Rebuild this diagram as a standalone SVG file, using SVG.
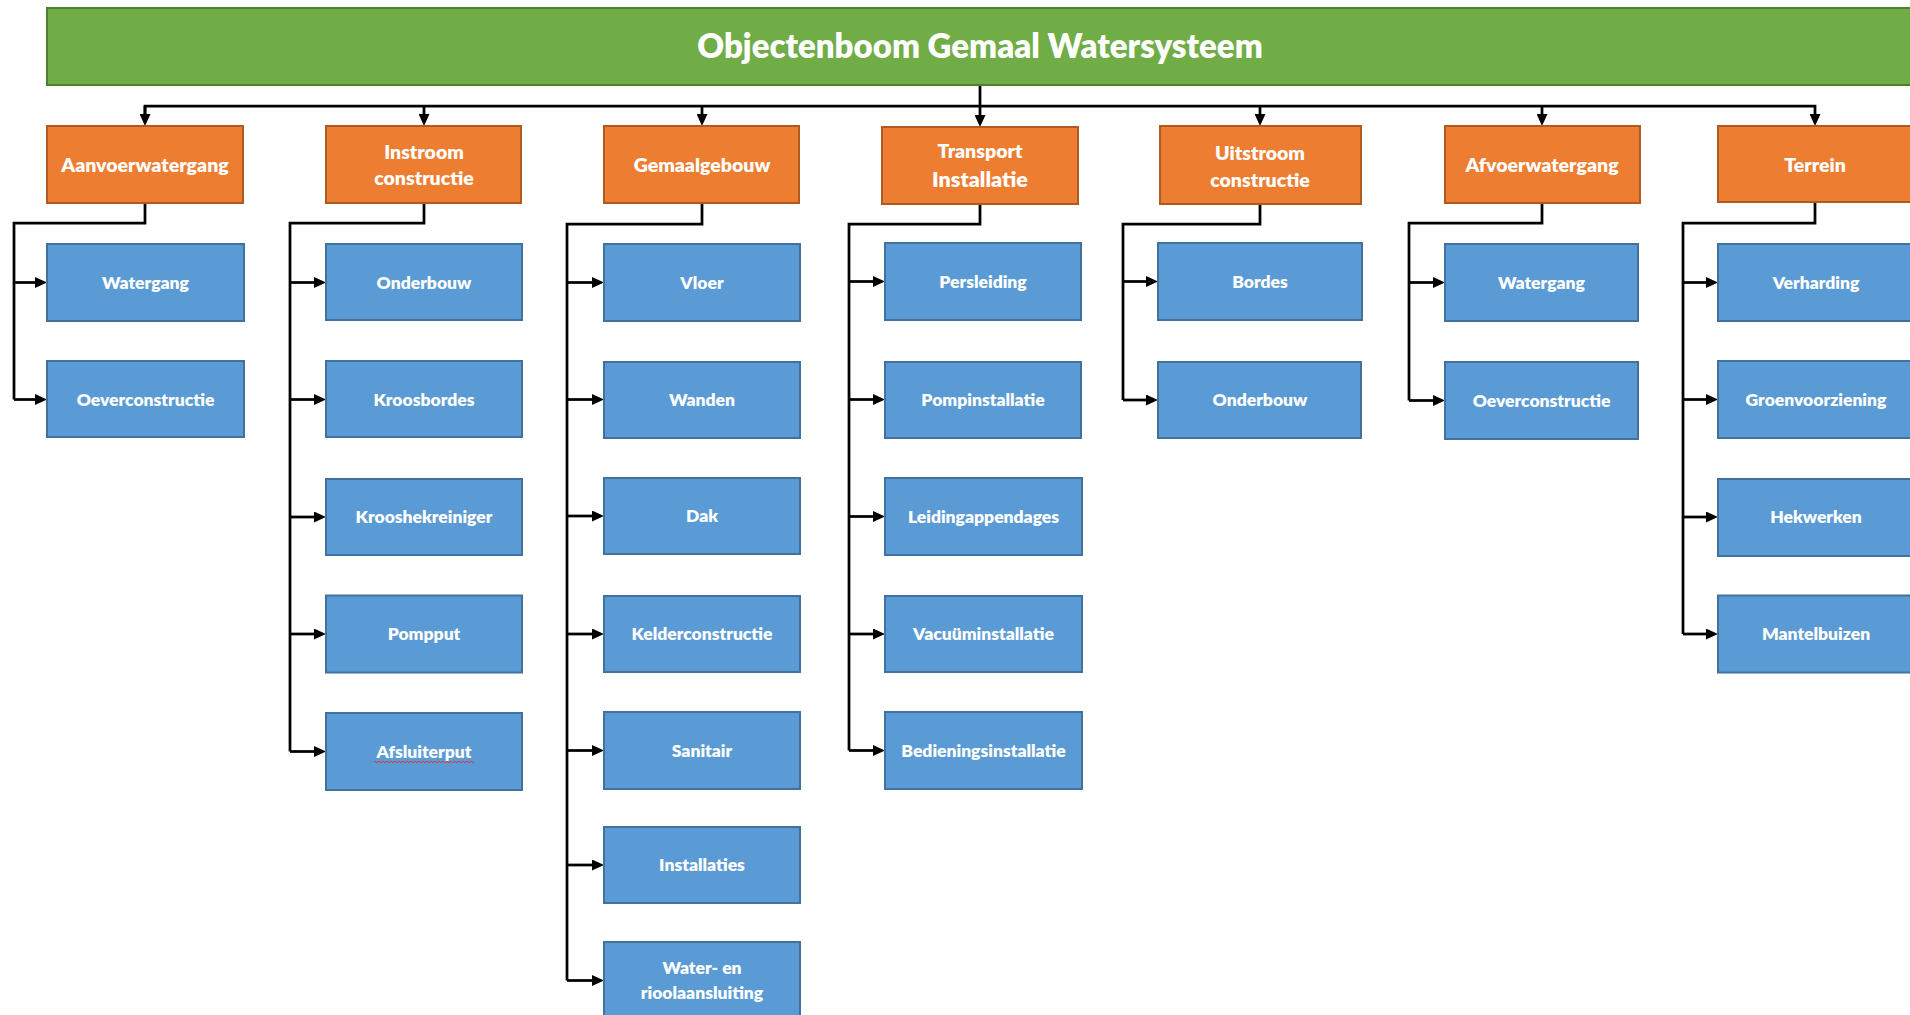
<svg xmlns="http://www.w3.org/2000/svg" width="1910" height="1015" viewBox="0 0 1910 1015">
  <style>
    .title { fill: #70AD47; stroke: #507E32; stroke-width: 2; }
    .cat { fill: #ED7D31; stroke: #AE5A21; stroke-width: 2; }
    .item { fill: #5B9BD5; stroke: #41719C; stroke-width: 2; }
    text { font-family: "Lato", "Open Sans", "Liberation Sans", sans-serif; font-weight: 800; fill: #FFFFFF; text-anchor: middle; }
    .t-title { font-size: 33px; }
    .t-cat { font-size: 19.5px; }
    .t-item { font-size: 17.5px; }
    .conn { fill: none; stroke: #000000; stroke-width: 2.75; }
    .squiggle { fill: none; stroke: #E03A3A; stroke-width: 1; }
  </style>
  <defs>
    <marker id="arrow" viewBox="0 0 12 11" markerWidth="12" markerHeight="11" refX="6" refY="5.5" markerUnits="userSpaceOnUse" orient="auto">
      <path d="M0,0 L12,5.5 L0,11 z" fill="#000000"/>
    </marker>
  </defs>

  <rect width="1910" height="1015" fill="#FFFFFF"/>

  <!-- connectors -->
  <g id="connectors" class="conn">
    <!-- root to categories -->
    <line x1="980" y1="85" x2="980" y2="121" marker-end="url(#arrow)"/>
    <polyline points="145,120 145,106 1815,106 1815,120" marker-end="url(#arrow)"/>
    <line x1="145" y1="106" x2="145" y2="120" marker-end="url(#arrow)"/>
    <line x1="424" y1="106" x2="424" y2="120" marker-end="url(#arrow)"/>
    <line x1="702" y1="106" x2="702" y2="120" marker-end="url(#arrow)"/>
    <line x1="1260" y1="106" x2="1260" y2="120" marker-end="url(#arrow)"/>
    <line x1="1542" y1="106" x2="1542" y2="120" marker-end="url(#arrow)"/>

    <!-- Aanvoerwatergang -->
    <polyline points="145,203 145,223 14,223 14,399.5"/>
    <line x1="14" y1="282.5" x2="41" y2="282.5" marker-end="url(#arrow)"/>
    <line x1="14" y1="399.5" x2="41" y2="399.5" marker-end="url(#arrow)"/>

    <!-- Instroom constructie -->
    <polyline points="424,203 424,223 290,223 290,751.5"/>
    <line x1="290" y1="282.5" x2="320" y2="282.5" marker-end="url(#arrow)"/>
    <line x1="290" y1="399.5" x2="320" y2="399.5" marker-end="url(#arrow)"/>
    <line x1="290" y1="517" x2="320" y2="517" marker-end="url(#arrow)"/>
    <line x1="290" y1="634" x2="320" y2="634" marker-end="url(#arrow)"/>
    <line x1="290" y1="751.5" x2="320" y2="751.5" marker-end="url(#arrow)"/>

    <!-- Gemaalgebouw -->
    <polyline points="702,203 702,224 567,224 567,980.5"/>
    <line x1="567" y1="282.5" x2="598" y2="282.5" marker-end="url(#arrow)"/>
    <line x1="567" y1="399.5" x2="598" y2="399.5" marker-end="url(#arrow)"/>
    <line x1="567" y1="516" x2="598" y2="516" marker-end="url(#arrow)"/>
    <line x1="567" y1="634" x2="598" y2="634" marker-end="url(#arrow)"/>
    <line x1="567" y1="750.5" x2="598" y2="750.5" marker-end="url(#arrow)"/>
    <line x1="567" y1="865" x2="598" y2="865" marker-end="url(#arrow)"/>
    <line x1="567" y1="980.5" x2="598" y2="980.5" marker-end="url(#arrow)"/>

    <!-- Transport Installatie -->
    <polyline points="980,204 980,224 849,224 849,750.5"/>
    <line x1="849" y1="281.5" x2="879" y2="281.5" marker-end="url(#arrow)"/>
    <line x1="849" y1="399.5" x2="879" y2="399.5" marker-end="url(#arrow)"/>
    <line x1="849" y1="516.5" x2="879" y2="516.5" marker-end="url(#arrow)"/>
    <line x1="849" y1="634" x2="879" y2="634" marker-end="url(#arrow)"/>
    <line x1="849" y1="750.5" x2="879" y2="750.5" marker-end="url(#arrow)"/>

    <!-- Uitstroom constructie -->
    <polyline points="1260,204 1260,224 1123,224 1123,400"/>
    <line x1="1123" y1="281.5" x2="1152" y2="281.5" marker-end="url(#arrow)"/>
    <line x1="1123" y1="400" x2="1152" y2="400" marker-end="url(#arrow)"/>

    <!-- Afvoerwatergang -->
    <polyline points="1542,203 1542,223 1409,223 1409,400.5"/>
    <line x1="1409" y1="282.5" x2="1439" y2="282.5" marker-end="url(#arrow)"/>
    <line x1="1409" y1="400.5" x2="1439" y2="400.5" marker-end="url(#arrow)"/>

    <!-- Terrein -->
    <polyline points="1815,202 1815,223 1683,223 1683,634"/>
    <line x1="1683" y1="282.5" x2="1712" y2="282.5" marker-end="url(#arrow)"/>
    <line x1="1683" y1="399.5" x2="1712" y2="399.5" marker-end="url(#arrow)"/>
    <line x1="1683" y1="517" x2="1712" y2="517" marker-end="url(#arrow)"/>
    <line x1="1683" y1="634" x2="1712" y2="634" marker-end="url(#arrow)"/>
  </g>

  <!-- root -->
  <g id="root">
    <rect class="title" x="47" y="8" width="1875" height="77"/>
    <text class="t-title" x="980" y="58">Objectenboom Gemaal Watersysteem</text>
  </g>

  <!-- categories -->
  <g id="aanvoerwatergang">
    <rect class="cat" x="47" y="126" width="196" height="77"/>
    <text class="t-cat" x="145" y="171.5">Aanvoerwatergang</text>
  </g>
  <g id="instroom-constructie">
    <rect class="cat" x="326" y="126" width="195" height="77"/>
    <text class="t-cat" x="424" y="159">Instroom</text>
    <text class="t-cat" x="424" y="185">constructie</text>
  </g>
  <g id="gemaalgebouw">
    <rect class="cat" x="604" y="126" width="195" height="77"/>
    <text class="t-cat" x="702" y="171.5">Gemaalgebouw</text>
  </g>
  <g id="transport-installatie">
    <rect class="cat" x="882" y="127" width="196" height="77"/>
    <text class="t-cat" x="980" y="158">Transport</text>
    <text class="t-cat" x="980" y="186.5" style="font-size:21.5px">Installatie</text>
  </g>
  <g id="uitstroom-constructie">
    <rect class="cat" x="1160" y="126" width="201" height="78"/>
    <text class="t-cat" x="1260" y="160">Uitstroom</text>
    <text class="t-cat" x="1260" y="186.5">constructie</text>
  </g>
  <g id="afvoerwatergang">
    <rect class="cat" x="1445" y="126" width="195" height="77"/>
    <text class="t-cat" x="1542" y="171.5">Afvoerwatergang</text>
  </g>
  <g id="terrein">
    <rect class="cat" x="1718" y="126" width="195" height="76"/>
    <text class="t-cat" x="1815" y="171.5">Terrein</text>
  </g>

  <!-- Aanvoerwatergang items -->
  <g id="aanvoer-watergang">
    <rect class="item" x="47" y="244" width="197" height="77"/>
    <text class="t-item" x="145.5" y="288.5">Watergang</text>
  </g>
  <g id="aanvoer-oeverconstructie">
    <rect class="item" x="47" y="361" width="197" height="76"/>
    <text class="t-item" x="145.5" y="405.5">Oeverconstructie</text>
  </g>

  <!-- Instroom constructie items -->
  <g id="instroom-onderbouw">
    <rect class="item" x="326" y="244" width="196" height="76"/>
    <text class="t-item" x="424" y="288.5">Onderbouw</text>
  </g>
  <g id="instroom-kroosbordes">
    <rect class="item" x="326" y="361" width="196" height="76"/>
    <text class="t-item" x="424" y="405.5">Kroosbordes</text>
  </g>
  <g id="instroom-krooshekreiniger">
    <rect class="item" x="326" y="479" width="196" height="76"/>
    <text class="t-item" x="424" y="523">Krooshekreiniger</text>
  </g>
  <g id="instroom-pompput">
    <rect class="item" x="326" y="595.5" width="196" height="77"/>
    <text class="t-item" x="424" y="640">Pompput</text>
  </g>
  <g id="instroom-afsluiterput">
    <rect class="item" x="326" y="713" width="196" height="77"/>
    <text class="t-item" x="424" y="757.5">Afsluiterput</text>
    <path class="squiggle" d="M374,762 q1,-1.6 2,0 t2,0 t2,0 t2,0 t2,0 t2,0 t2,0 t2,0 t2,0 t2,0 t2,0 t2,0 t2,0 t2,0 t2,0 t2,0 t2,0 t2,0 t2,0 t2,0 t2,0 t2,0 t2,0 t2,0 t2,0 t2,0 t2,0 t2,0 t2,0 t2,0 t2,0 t2,0 t2,0 t2,0 t2,0 t2,0 t2,0 t2,0 t2,0 t2,0 t2,0 t2,0 t2,0 t2,0 t2,0 t2,0 t2,0 t2,0 t2,0 t2,0"/>
  </g>

  <!-- Gemaalgebouw items -->
  <g id="gemaal-vloer">
    <rect class="item" x="604" y="244" width="196" height="77"/>
    <text class="t-item" x="702" y="288.5">Vloer</text>
  </g>
  <g id="gemaal-wanden">
    <rect class="item" x="604" y="362" width="196" height="76"/>
    <text class="t-item" x="702" y="406">Wanden</text>
  </g>
  <g id="gemaal-dak">
    <rect class="item" x="604" y="478" width="196" height="76"/>
    <text class="t-item" x="702" y="522">Dak</text>
  </g>
  <g id="gemaal-kelderconstructie">
    <rect class="item" x="604" y="596" width="196" height="76"/>
    <text class="t-item" x="702" y="640">Kelderconstructie</text>
  </g>
  <g id="gemaal-sanitair">
    <rect class="item" x="604" y="712" width="196" height="77"/>
    <text class="t-item" x="702" y="756.5">Sanitair</text>
  </g>
  <g id="gemaal-installaties">
    <rect class="item" x="604" y="827" width="196" height="76"/>
    <text class="t-item" x="702" y="871">Installaties</text>
  </g>
  <g id="gemaal-water-riool">
    <rect class="item" x="604" y="942" width="196" height="80"/>
    <text class="t-item" x="702" y="974">Water- en</text>
    <text class="t-item" x="702" y="999">rioolaansluiting</text>
  </g>

  <!-- Transport Installatie items -->
  <g id="transport-persleiding">
    <rect class="item" x="885" y="243" width="196" height="77"/>
    <text class="t-item" x="983" y="287.5">Persleiding</text>
  </g>
  <g id="transport-pompinstallatie">
    <rect class="item" x="885" y="362" width="196" height="76"/>
    <text class="t-item" x="983" y="406">Pompinstallatie</text>
  </g>
  <g id="transport-leidingappendages">
    <rect class="item" x="885" y="478" width="197" height="77"/>
    <text class="t-item" x="983.5" y="522.5">Leidingappendages</text>
  </g>
  <g id="transport-vacuuminstallatie">
    <rect class="item" x="885" y="596" width="197" height="76"/>
    <text class="t-item" x="983.5" y="640">Vacuüminstallatie</text>
  </g>
  <g id="transport-bedieningsinstallatie">
    <rect class="item" x="885" y="712" width="197" height="77"/>
    <text class="t-item" x="983.5" y="756.5">Bedieningsinstallatie</text>
  </g>

  <!-- Uitstroom constructie items -->
  <g id="uitstroom-bordes">
    <rect class="item" x="1158" y="243" width="204" height="77"/>
    <text class="t-item" x="1260" y="287.5">Bordes</text>
  </g>
  <g id="uitstroom-onderbouw">
    <rect class="item" x="1158" y="362" width="203" height="76"/>
    <text class="t-item" x="1260" y="406">Onderbouw</text>
  </g>

  <!-- Afvoerwatergang items -->
  <g id="afvoer-watergang">
    <rect class="item" x="1445" y="244" width="193" height="77"/>
    <text class="t-item" x="1541.5" y="288.5">Watergang</text>
  </g>
  <g id="afvoer-oeverconstructie">
    <rect class="item" x="1445" y="362" width="193" height="77"/>
    <text class="t-item" x="1541.5" y="406.5">Oeverconstructie</text>
  </g>

  <!-- Terrein items -->
  <g id="terrein-verharding">
    <rect class="item" x="1718" y="244" width="196" height="77"/>
    <text class="t-item" x="1816" y="288.5">Verharding</text>
  </g>
  <g id="terrein-groenvoorziening">
    <rect class="item" x="1718" y="361" width="196" height="77"/>
    <text class="t-item" x="1816" y="405.5">Groenvoorziening</text>
  </g>
  <g id="terrein-hekwerken">
    <rect class="item" x="1718" y="479" width="196" height="77"/>
    <text class="t-item" x="1816" y="523">Hekwerken</text>
  </g>
  <g id="terrein-mantelbuizen">
    <rect class="item" x="1718" y="595.5" width="196" height="77"/>
    <text class="t-item" x="1816" y="640">Mantelbuizen</text>
  </g>
</svg>
